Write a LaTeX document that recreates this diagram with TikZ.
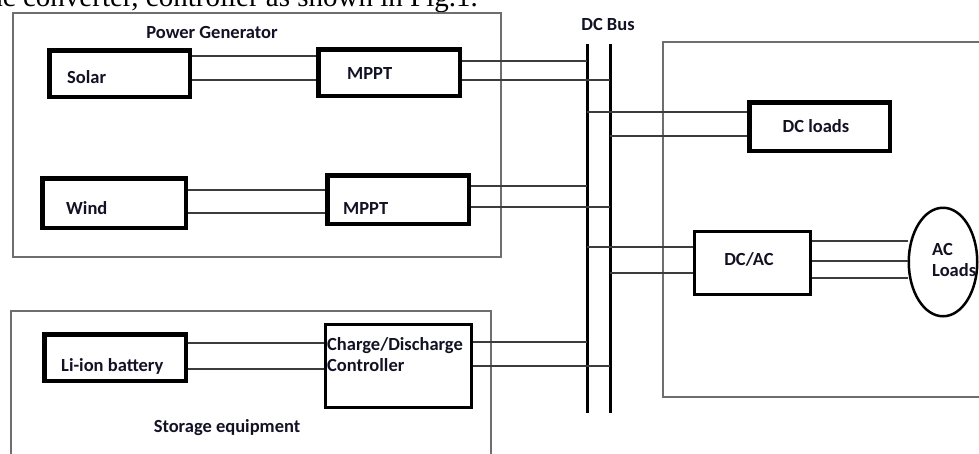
\documentclass[tikz,border=0pt]{standalone}
\usepackage{fontspec}
\setmainfont{Carlito}
\newfontfamily\introfont{Liberation Serif}
\usetikzlibrary{shapes.geometric}
\definecolor{ink}{RGB}{18,18,36}
\definecolor{wiregray}{RGB}{60,60,60}
\definecolor{framegray}{RGB}{110,110,110}

\begin{document}
\begin{tikzpicture}[x=1pt, y=-1pt,
    lbl/.style={font=\fontsize{18.5}{21}\selectfont\bfseries, text=ink, inner sep=0pt},
    unit/.style={draw, line width=4.5pt, inner sep=0pt},
    thinunit/.style={draw, line width=3pt, inner sep=0pt},
    group/.style={draw=framegray, line width=1.8pt, inner sep=0pt},
    wire/.style={draw=wiregray, line width=2pt},
    busline/.style={line width=3pt}]
    \useasboundingbox (0,0) rectangle (979,453);
    \clip (0,0) rectangle (979,453);

    \node[font=\introfont\fontsize{29}{32}\selectfont, anchor=base east, inner sep=0pt] (intro) at (478,6.5) {dc converter, controller as shown in Fig.1.};

    % frames
    \node[group, minimum width=488pt, minimum height=244pt] (gen) at (257,135) {};
    \node[group, minimum width=480pt, minimum height=168pt] (store) at (251,395) {};
    \node[group, minimum width=336pt, minimum height=355pt] (loads) at (831,219.5) {};

    \node[lbl] (gentxt) at (212,32) {Power Generator};
    \node[lbl] (storetxt) at (227,428) {Storage equipment};
    \node[lbl] (bustxt) at (608,24) {DC Bus};

    % units
    \node[unit, minimum width=140.5pt, minimum height=46.5pt] (solar) at (119.5,73.5) {};
    \node[unit, minimum width=141.5pt, minimum height=46.5pt] (mppta) at (389,72.5) {};
    \node[unit, minimum width=143.5pt, minimum height=49.5pt] (wind) at (114,203) {};
    \node[unit, minimum width=141.5pt, minimum height=48.5pt] (mpptb) at (398,199.5) {};
    \node[unit, minimum width=141.5pt, minimum height=46.5pt] (batt) at (115,357.5) {};
    \node[thinunit, minimum width=146pt, minimum height=83pt] (ctrl) at (398.5,366) {};
    \node[unit, minimum width=140.5pt, minimum height=48.5pt] (dcl) at (819.5,126.5) {};
    \node[thinunit, minimum width=116pt, minimum height=63pt] (dcac) at (752.5,263) {};
    \node[ellipse, draw, line width=2.5pt, inner sep=0pt, minimum width=68.5pt, minimum height=108.5pt] (acl) at (943,262) {};

    \node[lbl, anchor=west] (solartxt) at (67,77) {Solar};
    \node[lbl, anchor=west] (mpptatxt) at (347,73) {MPPT};
    \node[lbl, anchor=west] (windtxt) at (66,208) {Wind};
    \node[lbl, anchor=west] (mpptbtxt) at (343,208) {MPPT};
    \node[lbl, anchor=west] (batttxt) at (61,366) {Li-ion battery};
    \node[lbl, anchor=west, align=left] (ctrltxt) at (327,355) {Charge/Discharge\\Controller};
    \node[lbl] (dcltxt) at (816,126) {DC loads};
    \node[lbl] (dcactxt) at (749,259) {DC/AC};
    \node[lbl, anchor=west, align=left] (acltxt) at (932,259.5) {AC\\Loads};

    % bus bars
    \coordinate (busatop) at (587,44);
    \coordinate (busabot) at (587,413);
    \coordinate (busbtop) at (610,44);
    \coordinate (busbbot) at (610,413);
    \draw[busline] (busatop) -- (busabot);
    \draw[busline] (busbtop) -- (busbbot);

    % wires
    \draw[wire] (solar.east |- 0,56) -- (mppta.west |- 0,56);
    \draw[wire] (solar.east |- 0,80) -- (mppta.west |- 0,80);
    \draw[wire] (mppta.east |- 0,61) -- (busatop |- 0,61);
    \draw[wire] (mppta.east |- 0,80) -- (busbtop |- 0,80);

    \draw[wire] (wind.east |- 0,190) -- (mpptb.west |- 0,190);
    \draw[wire] (wind.east |- 0,213) -- (mpptb.west |- 0,213);
    \draw[wire] (mpptb.east |- 0,186) -- (busatop |- 0,186);
    \draw[wire] (mpptb.east |- 0,207) -- (busbtop |- 0,207);

    \draw[wire] (batt.east |- 0,343) -- (ctrl.west |- 0,343);
    \draw[wire] (batt.east |- 0,369) -- (ctrl.west |- 0,369);
    \draw[wire] (ctrl.east |- 0,342) -- (busatop |- 0,342);
    \draw[wire] (ctrl.east |- 0,366) -- (busbtop |- 0,366);

    \draw[wire] (busatop |- 0,112) -- (dcl.west |- 0,112);
    \draw[wire] (busbtop |- 0,136) -- (dcl.west |- 0,136);
    \draw[wire] (busatop |- 0,247) -- (dcac.west |- 0,247);
    \draw[wire] (busbtop |- 0,273) -- (dcac.west |- 0,273);

    \draw[wire] (dcac.east |- 0,241) -- (acl.west |- 0,241);
    \draw[wire] (dcac.east |- 0,261) -- (acl.west |- 0,261);
    \draw[wire] (dcac.east |- 0,278) -- (acl.west |- 0,278);
\end{tikzpicture}
\end{document}
